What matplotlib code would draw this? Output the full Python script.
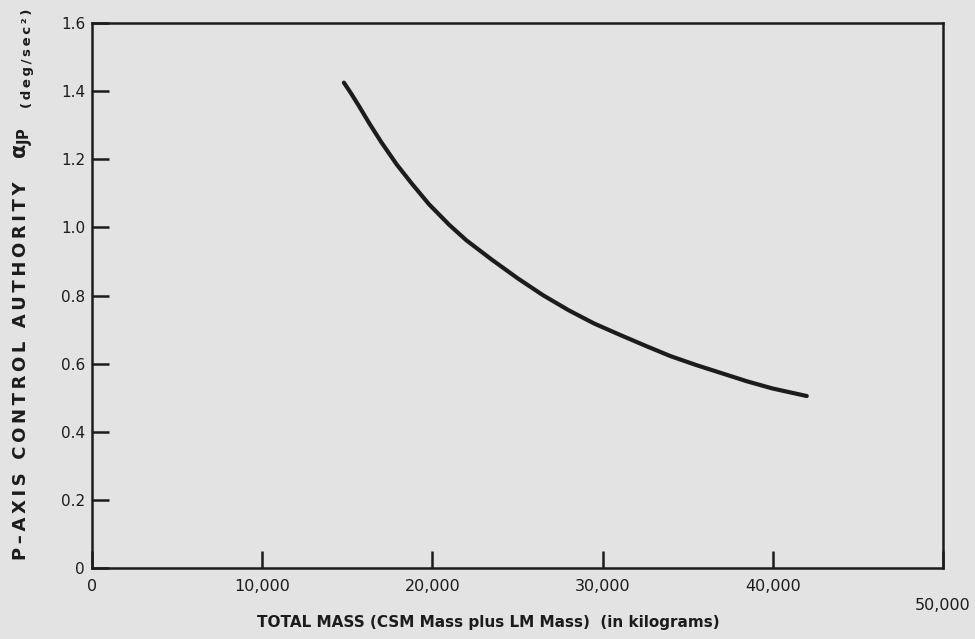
import matplotlib.pyplot as plt

# values (total mass in kg, control authority in deg/sec^2)
mass = [14800, 15200, 15700, 16300, 17000, 17900, 18800, 19800, 21000,
        22000, 23500, 25000, 26500, 28000, 29500, 31000, 32500, 34000,
        35500, 37000, 38500, 40000, 41000, 42000]
alpha = [1.425, 1.395, 1.355, 1.305, 1.25, 1.185, 1.128, 1.068, 1.007,
         0.962, 0.905, 0.851, 0.801, 0.757, 0.718, 0.685, 0.653, 0.622,
         0.596, 0.572, 0.548, 0.527, 0.516, 0.505]

xticks = [0, 10000, 20000, 30000, 40000, 50000]
xticklabels = ['0', '10,000', '20,000', '30,000', '40,000', '50,000']
yticks = [0, 0.2, 0.4, 0.6, 0.8, 1.0, 1.2, 1.4, 1.6]
yticklabels = ['0', '0.2', '0.4', '0.6', '0.8', '1.0', '1.2', '1.4', '1.6']

bg = '#e3e3e3'
ink = '#1c1c1c'
W, H = 975, 639


def spaced(s):
    # letter-spacing like the original lettering, using thin spaces
    return '\u2009'.join(s)


fig = plt.figure(figsize=(9.75, 6.39), dpi=100, facecolor=bg)
ax = fig.add_axes([0.0944, 0.111, 0.8727, 0.853], facecolor=bg)

ax.plot(mass, alpha, color=ink, linewidth=3.0, solid_capstyle='round',
        solid_joinstyle='round')

ax.set_xlim(0, 50000)
ax.set_ylim(0, 1.6)
ax.set_xticks(xticks)
ax.set_xticklabels(xticklabels)
ax.set_yticks(yticks)
ax.set_yticklabels(yticklabels)

for s in ax.spines.values():
    s.set_linewidth(1.8)
    s.set_color(ink)

ax.tick_params(axis='both', direction='in', length=12, width=1.8, colors=ink,
               labelcolor=ink)
ax.tick_params(axis='x', pad=8, labelsize=11.5)
ax.tick_params(axis='y', pad=5, labelsize=11)

# the 50,000 label sits a bit lower in the original
ax.get_xticklabels()[-1].set_y(-0.035)

fig.text(488 / W, 1 - 623 / H,
         'TOTAL MASS (CSM Mass plus LM Mass)  (in kilograms)',
         fontsize=11, fontweight='bold', color=ink, ha='center', va='center')

# y label in three pieces: words, alpha with JP subscript, units
fig.text(26 / W, 1 - 560 / H, spaced('P–AXIS CONTROL AUTHORITY'),
         fontsize=13, fontweight='bold', color=ink, rotation=90,
         rotation_mode='anchor', ha='left', va='baseline')
fig.text(26 / W, 1 - 159 / H, r'$\mathbf{\alpha_{JP}}$',
         fontsize=15, color=ink, rotation=90,
         rotation_mode='anchor', ha='left', va='baseline')
fig.text(31 / W, 1 - 108 / H, spaced('(deg/sec²)'),
         fontsize=9.5, fontweight='bold', color=ink, rotation=90,
         rotation_mode='anchor', ha='left', va='baseline')

fig.savefig('out.png', dpi=100, facecolor=bg)
